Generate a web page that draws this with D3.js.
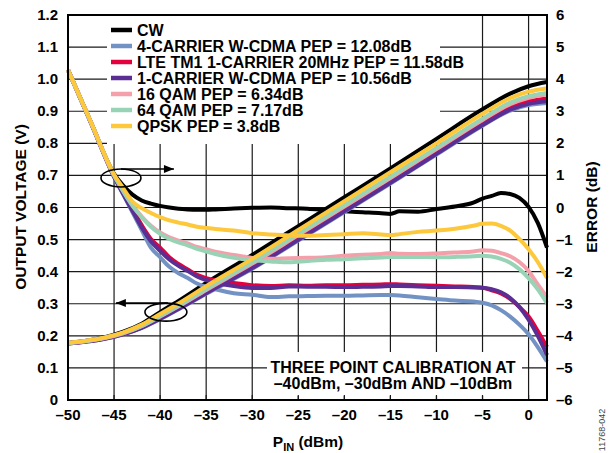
<!DOCTYPE html>
<html>
<head>
<meta charset="utf-8">
<script src="https://cdn.jsdelivr.net/npm/d3@7"></script>
<style>
	body { margin: 0; background: #fff; }
	svg text { font-family: "Liberation Sans", Arial, Helvetica, sans-serif; font-weight: bold; fill: #000; }
</style>
</head>
<body>
<svg width="610" height="453"></svg>
<script>
// ---- data ----
var seriesNames = [
	"CW",
	"4-CARRIER W-CDMA PEP = 12.08dB",
	"LTE TM1 1-CARRIER 20MHz PEP = 11.58dB",
	"1-CARRIER W-CDMA PEP = 10.56dB",
	"16 QAM PEP = 6.34dB",
	"64 QAM PEP = 7.17dB",
	"QPSK PEP = 3.8dB"
];
var seriesColors = ["#000000", "#7392c4", "#e4003c", "#5a2e93", "#f3a0ab", "#99d3b6", "#fdc83c"];

var xTicks = [-50, -45, -40, -35, -30, -25, -20, -15, -10, -5, 0];
var voltTicks = [0, 0.1, 0.2, 0.3, 0.4, 0.5, 0.6, 0.7, 0.8, 0.9, 1.0, 1.1, 1.2];
var errTicks = [-6, -5, -4, -3, -2, -1, 0, 1, 2, 3, 4, 5, 6];

// output voltage (V) vs PIN (dBm)
var voltPin = [-50, -48, -46, -44, -42, -40, -38, -35, -30, -25, -20, -15, -10, -5, -2, 0, 2];
var voltCW     = [0.178, 0.185, 0.196, 0.213, 0.238, 0.274, 0.309, 0.365, 0.452, 0.542, 0.632, 0.722, 0.814, 0.906, 0.955, 0.978, 0.991];
var volt4Wcdma = [0.176, 0.182, 0.191, 0.205, 0.225, 0.252, 0.283, 0.331, 0.409, 0.497, 0.586, 0.675, 0.765, 0.855, 0.902, 0.919, 0.926];
var voltLte    = [0.177, 0.183, 0.192, 0.206, 0.227, 0.256, 0.287, 0.337, 0.416, 0.505, 0.595, 0.684, 0.774, 0.864, 0.912, 0.931, 0.940];
var volt1Wcdma = [0.176, 0.182, 0.191, 0.205, 0.225, 0.253, 0.284, 0.333, 0.411, 0.499, 0.588, 0.677, 0.767, 0.857, 0.905, 0.923, 0.931];
var volt16Qam  = [0.177, 0.184, 0.193, 0.208, 0.230, 0.260, 0.292, 0.343, 0.425, 0.514, 0.603, 0.692, 0.782, 0.873, 0.922, 0.942, 0.953];
var volt64Qam  = [0.177, 0.184, 0.194, 0.209, 0.231, 0.262, 0.294, 0.346, 0.429, 0.518, 0.607, 0.696, 0.786, 0.877, 0.927, 0.947, 0.957];
var voltQpsk   = [0.178, 0.185, 0.195, 0.211, 0.235, 0.268, 0.301, 0.355, 0.440, 0.530, 0.620, 0.710, 0.800, 0.892, 0.941, 0.961, 0.972];

// error (dB) vs PIN (dBm)
var errPin = [-50, -47.5, -45, -44, -43, -42, -41, -40, -39, -38, -37, -36, -35, -34, -32, -30, -28, -26, -24, -22, -20, -18, -16, -15, -14, -12, -10, -8, -6, -5, -4, -3, -2, -1, 0, 1, 2];
var errCW     = [4.29, 2.65, 1.05, 0.68, 0.40, 0.22, 0.12, 0.05, 0.00, -0.04, -0.06, -0.07, -0.07, -0.06, -0.03, -0.01, 0.00, -0.02, -0.04, -0.08, -0.12, -0.15, -0.18, -0.20, -0.12, -0.13, -0.05, 0.03, 0.15, 0.28, 0.36, 0.45, 0.42, 0.30, 0.02, -0.48, -1.25];
var err4Wcdma = [4.29, 2.63, 0.95, 0.40, -0.15, -0.70, -1.25, -1.55, -1.85, -2.05, -2.20, -2.37, -2.47, -2.55, -2.67, -2.72, -2.79, -2.77, -2.76, -2.75, -2.75, -2.74, -2.73, -2.73, -2.74, -2.80, -2.85, -2.90, -2.93, -2.97, -3.05, -3.20, -3.40, -3.65, -3.95, -4.35, -4.80];
var errLte    = [4.29, 2.65, 0.98, 0.45, -0.05, -0.55, -0.98, -1.25, -1.55, -1.76, -1.93, -2.10, -2.20, -2.27, -2.35, -2.42, -2.45, -2.42, -2.44, -2.42, -2.42, -2.41, -2.40, -2.39, -2.40, -2.42, -2.44, -2.46, -2.48, -2.50, -2.58, -2.68, -2.85, -3.10, -3.40, -3.85, -4.35];
var err1Wcdma = [4.29, 2.63, 0.96, 0.42, -0.10, -0.62, -1.05, -1.35, -1.62, -1.82, -1.98, -2.15, -2.26, -2.34, -2.45, -2.51, -2.51, -2.46, -2.47, -2.47, -2.48, -2.47, -2.46, -2.45, -2.45, -2.46, -2.48, -2.48, -2.49, -2.50, -2.55, -2.64, -2.82, -3.10, -3.50, -4.00, -4.60];
var err16Qam  = [4.29, 2.65, 1.00, 0.52, 0.08, -0.28, -0.57, -0.78, -0.93, -1.03, -1.12, -1.23, -1.30, -1.38, -1.48, -1.57, -1.60, -1.58, -1.57, -1.55, -1.50, -1.47, -1.45, -1.42, -1.44, -1.45, -1.43, -1.40, -1.37, -1.33, -1.35, -1.42, -1.52, -1.70, -1.98, -2.40, -2.80];
var err64Qam  = [4.29, 2.65, 1.00, 0.50, 0.05, -0.30, -0.60, -0.82, -0.98, -1.09, -1.18, -1.29, -1.37, -1.45, -1.57, -1.64, -1.68, -1.71, -1.67, -1.63, -1.61, -1.58, -1.56, -1.54, -1.54, -1.54, -1.55, -1.54, -1.52, -1.50, -1.53, -1.60, -1.72, -1.92, -2.20, -2.55, -2.98];
var errQpsk   = [4.29, 2.65, 1.03, 0.60, 0.18, -0.02, -0.17, -0.30, -0.40, -0.47, -0.53, -0.60, -0.64, -0.67, -0.72, -0.80, -0.84, -0.87, -0.88, -0.86, -0.83, -0.80, -0.84, -0.86, -0.83, -0.76, -0.72, -0.66, -0.57, -0.51, -0.50, -0.57, -0.72, -0.98, -1.30, -1.70, -2.20];

var voltSeries = [voltCW, volt4Wcdma, voltLte, volt1Wcdma, volt16Qam, volt64Qam, voltQpsk];
var errSeries = [errCW, err4Wcdma, errLte, err1Wcdma, err16Qam, err64Qam, errQpsk];

// ---- layout ----
var svg = d3.select("svg");
var mLeft = 68, mRight = 547, mTop = 15, mBottom = 400;

var x = d3.scaleLinear().domain([-50, 2]).range([mLeft, mRight]);
var yV = d3.scaleLinear().domain([0, 1.2]).range([mBottom, mTop]);
var yE = d3.scaleLinear().domain([-6, 6]).range([mBottom, mTop]);

var dash = (v) => (v < 0 ? "\u2013" + Math.abs(v) : "" + v);

// grid
var grid = svg.append("g").attr("stroke", "#1a1a1a").attr("stroke-width", 1.2);
grid.selectAll(".vgrid")
	.data(xTicks.filter((d) => d > -50))
	.enter()
	.append("line")
	.attr("class", "vgrid")
	.attr("x1", (d) => x(d)).attr("x2", (d) => x(d))
	.attr("y1", mTop).attr("y2", mBottom);
grid.selectAll(".hgrid")
	.data(voltTicks.filter((d) => d > 0 && d < 1.2))
	.enter()
	.append("line")
	.attr("class", "hgrid")
	.attr("x1", mLeft).attr("x2", mRight)
	.attr("y1", (d) => yV(d)).attr("y2", (d) => yV(d));

// white boxes that hide the grid behind legend and note
svg.append("rect").attr("x", 107).attr("y", mTop + 1).attr("width", 333).attr("height", 128).attr("fill", "#fff");
svg.append("rect").attr("x", 267).attr("y", 352).attr("width", 255).attr("height", 44).attr("fill", "#fff");

// small inner ticks on the bottom edge (visible inside the note box)
svg.append("g").selectAll("line")
	.data(xTicks.filter((d) => d > -50))
	.enter()
	.append("line")
	.attr("x1", (d) => x(d)).attr("x2", (d) => x(d))
	.attr("y1", mBottom - 5).attr("y2", mBottom)
	.attr("stroke", "#1a1a1a").attr("stroke-width", 1.2);

// curves
var line = d3.line().curve(d3.curveMonotoneX);
var curves = svg.append("g").attr("fill", "none").attr("stroke-linejoin", "round");
seriesNames.forEach((name, i) => {
	curves.append("path")
		.attr("d", line(voltPin.map((p, k) => [x(p), yV(voltSeries[i][k])])))
		.attr("stroke", seriesColors[i])
		.attr("stroke-width", 4);
	curves.append("path")
		.attr("d", line(errPin.map((p, k) => [x(p), yE(errSeries[i][k])])))
		.attr("stroke", seriesColors[i])
		.attr("stroke-width", 4);
});

// frame
svg.append("rect")
	.attr("x", mLeft).attr("y", mTop)
	.attr("width", mRight - mLeft).attr("height", mBottom - mTop)
	.attr("fill", "none").attr("stroke", "#000").attr("stroke-width", 2);

// tick labels
svg.append("g").selectAll("text").data(xTicks).enter().append("text")
	.attr("x", (d) => x(d)).attr("y", 420)
	.attr("text-anchor", "middle").attr("font-size", 15)
	.text(dash);
svg.append("g").selectAll("text").data(voltTicks).enter().append("text")
	.attr("x", 58).attr("y", (d) => yV(d) + 5)
	.attr("text-anchor", "end").attr("font-size", 15)
	.text((d) => (d === 0 ? "0" : d.toFixed(1)));
svg.append("g").selectAll("text").data(errTicks).enter().append("text")
	.attr("x", 556).attr("y", (d) => yE(d) + 5)
	.attr("text-anchor", "start").attr("font-size", 15)
	.text(dash);

// axis titles
var xt = svg.append("text").attr("x", 308).attr("y", 447).attr("text-anchor", "middle").attr("font-size", 15.5);
xt.append("tspan").text("P");
xt.append("tspan").attr("font-size", 11).attr("dy", 4).text("IN");
xt.append("tspan").attr("dy", -4).text(" (dBm)");

svg.append("text")
	.attr("transform", "translate(26,207) rotate(-90)")
	.attr("text-anchor", "middle").attr("font-size", 15.5)
	.text("OUTPUT VOLTAGE (V)");
svg.append("text")
	.attr("transform", "translate(597,207) rotate(-90)")
	.attr("text-anchor", "middle").attr("font-size", 15.5)
	.text("ERROR (dB)");
svg.append("text")
	.attr("transform", "translate(605,430) rotate(-90)")
	.attr("text-anchor", "middle").attr("font-size", 9)
	.style("font-weight", "normal").style("fill", "#444")
	.text("11768-042");

// legend
var legend = svg.append("g");
seriesNames.forEach((name, i) => {
	var ly = 30 + i * 16;
	legend.append("line").attr("x1", 111).attr("x2", 132).attr("y1", ly).attr("y2", ly)
		.attr("stroke", seriesColors[i]).attr("stroke-width", 4.5);
	legend.append("text").attr("x", 137).attr("y", ly + 5.5).attr("font-size", 16).text(name);
});

// calibration note
var note = svg.append("text").attr("text-anchor", "middle").attr("font-size", 16);
note.append("tspan").attr("x", 393).attr("y", 373).text("THREE POINT CALIBRATION AT");
note.append("tspan").attr("x", 393).attr("y", 389).text("\u201340dBm, \u201330dBm AND \u201310dBm");

// ellipses and arrows marking which axis each group belongs to
var defs = svg.append("defs");
defs.append("marker")
	.attr("id", "head")
	.attr("viewBox", "0 -5 10 10")
	.attr("refX", 10).attr("refY", 0)
	.attr("markerUnits", "userSpaceOnUse")
	.attr("markerWidth", 16).attr("markerHeight", 10)
	.attr("orient", "auto")
	.append("path").attr("d", "M0,-4 L10,0 L0,4 Z").attr("fill", "#000");

var ann = svg.append("g").attr("fill", "none").attr("stroke", "#000").attr("stroke-width", 1.6);
var e1 = [x(-44.25), yV(0.692)], e2 = [x(-39.37), yV(0.274)];
ann.append("ellipse").attr("cx", e1[0]).attr("cy", e1[1]).attr("rx", 20).attr("ry", 9);
ann.append("line").attr("x1", e1[0]).attr("y1", e1[1] - 9).attr("x2", x(-38.5)).attr("y2", e1[1] - 9)
	.attr("marker-end", "url(#head)");
ann.append("ellipse").attr("cx", e2[0]).attr("cy", e2[1]).attr("rx", 21).attr("ry", 9);
ann.append("line").attr("x1", e2[0] + 2).attr("y1", e2[1] - 9).attr("x2", x(-44.8)).attr("y2", e2[1] - 9)
	.attr("marker-end", "url(#head)");
</script>
</body>
</html>
